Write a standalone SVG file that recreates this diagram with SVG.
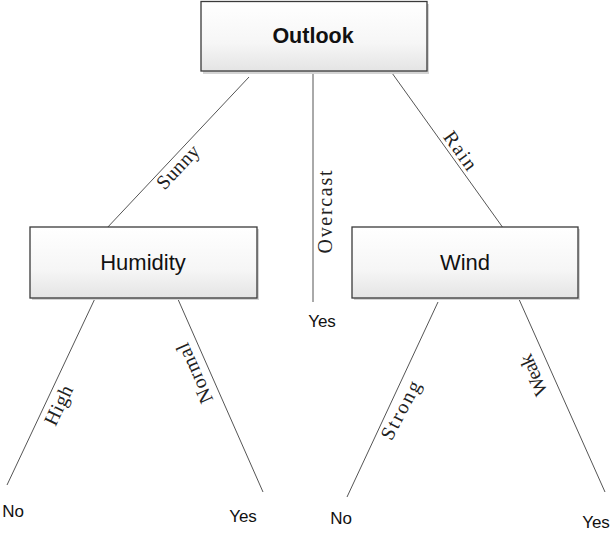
<svg xmlns="http://www.w3.org/2000/svg" width="611" height="536" viewBox="0 0 611 536">
<defs>
<linearGradient id="boxg" x1="0" y1="0" x2="0" y2="1">
<stop offset="0" stop-color="#ffffff"/>
<stop offset="0.6" stop-color="#f6f6f6"/>
<stop offset="1" stop-color="#e4e4e4"/>
</linearGradient>
</defs>
<style>
.shadow{fill:#d4d4d4;}
.box{fill:url(#boxg);stroke:#3a3a3a;stroke-width:1.3;}
.node{font-family:"Liberation Sans",Arial,sans-serif;font-size:22px;fill:#111;text-anchor:middle;}
.root{font-weight:bold;font-size:21.5px;}
.leaf{font-family:"Liberation Sans",Arial,sans-serif;font-size:17px;fill:#111;text-anchor:middle;}
.edge{stroke:#555;stroke-width:1;fill:none;}
.lbl{font-family:"Liberation Serif","Times New Roman",serif;font-size:20px;fill:#222;text-anchor:middle;}
</style>
<rect width="611" height="536" fill="#ffffff"/>
<g id="connectors">
<line class="edge" x1="249" y1="77" x2="106" y2="229"/>
<line class="edge" x1="313" y1="58" x2="313" y2="302"/>
<line class="edge" x1="392" y1="73" x2="506" y2="232"/>
<line class="edge" x1="99" y1="290" x2="7" y2="485"/>
<line class="edge" x1="177" y1="297" x2="263" y2="492"/>
<line class="edge" x1="438" y1="302" x2="347" y2="497"/>
<line class="edge" x1="518" y1="297" x2="605" y2="492"/>
<text class="lbl" transform="translate(179,168) rotate(-46.7)" y="5" textLength="53" lengthAdjust="spacing">Sunny</text>
<text class="lbl" transform="translate(326,212) rotate(-90)" y="6" textLength="83" lengthAdjust="spacing">Overcast</text>
<text class="lbl" transform="translate(460,151) rotate(54.4)" y="6" textLength="43" lengthAdjust="spacing">Rain</text>
<text class="lbl" transform="translate(60,406) rotate(-64.7)" y="5" textLength="42" lengthAdjust="spacing">High</text>
<text class="lbl" transform="translate(195,373) rotate(-114)" y="6" textLength="64" lengthAdjust="spacing">Normal</text>
<text class="lbl" transform="translate(402,411) rotate(-62)" y="5" textLength="64" lengthAdjust="spacing">Strong</text>
<text class="lbl" transform="translate(534,375) rotate(-114)" y="6" textLength="43" lengthAdjust="spacing">Weak</text>
</g>
<g id="outlook">
<rect class="shadow" x="203" y="4" width="226" height="70"/>
<rect class="box" x="201" y="1.5" width="226" height="69.5"/>
<text class="node root" x="313" y="43">Outlook</text>
</g>
<g id="humidity">
<rect class="shadow" x="32" y="229" width="227" height="71"/>
<rect class="box" x="30" y="227" width="227" height="71"/>
<text class="node" x="143" y="270">Humidity</text>
</g>
<g id="wind">
<rect class="shadow" x="354" y="229" width="226" height="71"/>
<rect class="box" x="352" y="227" width="226" height="71"/>
<text class="node" x="465" y="270">Wind</text>
</g>
<g id="leaf-overcast-yes"><text class="leaf" x="322" y="327">Yes</text></g>
<g id="leaf-high-no"><text class="leaf" x="13" y="517">No</text></g>
<g id="leaf-normal-yes"><text class="leaf" x="243" y="522">Yes</text></g>
<g id="leaf-strong-no"><text class="leaf" x="341" y="524">No</text></g>
<g id="leaf-weak-yes"><text class="leaf" x="596" y="528">Yes</text></g>
</svg>
